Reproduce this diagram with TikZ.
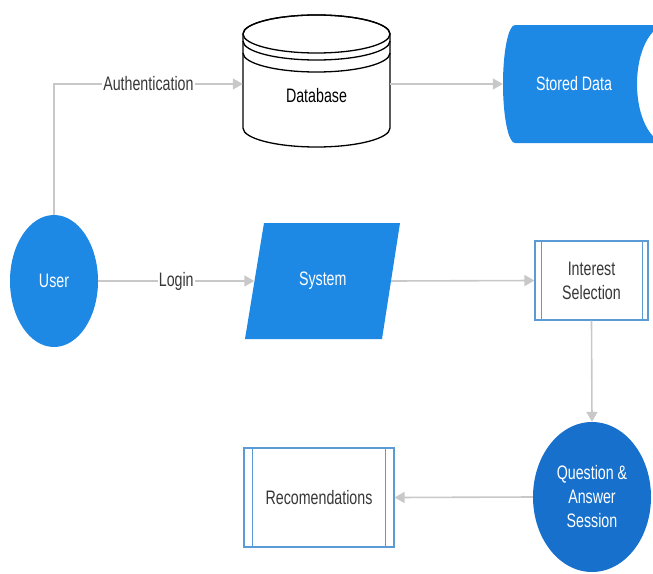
\documentclass[tikz,border=0pt]{standalone}
\usepackage{fontspec}
\setmainfont{Liberation Sans}[FakeStretch=0.73]
\usetikzlibrary{shapes.geometric,arrows.meta}

\definecolor{flowblue}{RGB}{30,136,229}
\definecolor{deepblue}{RGB}{22,112,204}
\definecolor{edgeblue}{RGB}{91,155,213}
\definecolor{linegray}{RGB}{200,200,200}
\definecolor{textgray}{RGB}{55,55,55}
\newcommand{\flowfont}{\fontsize{19.5}{24}\selectfont}

\begin{document}
\begin{tikzpicture}[x=1pt,y=1pt,
% node style
blob/.style={ellipse, fill=flowblue, text=white, font=\flowfont, align=center, inner sep=0pt},
proc/.style={rectangle, draw=edgeblue, line width=1.2pt, fill=white, text=textgray, font=\flowfont, align=center},
hidden/.style={rectangle, inner sep=0pt, font=\flowfont},
dbline/.style={draw=black, line width=1.3pt},
flow/.style={draw=linegray, line width=1.6pt, -{Triangle[width=11pt,length=10pt]}},
tag/.style={fill=white, text=textgray, inner sep=1pt, font=\flowfont}
]
\useasboundingbox (0,0) rectangle (653,-573);
\clip (0,0) rectangle (653,-573);

% shapes drawn directly
\fill[flowblue] (515,-25) -- (667,-25)
  arc[start angle=90, end angle=270, x radius=30pt, y radius=59pt]
  -- (515,-143)
  arc[start angle=270, end angle=90, x radius=12pt, y radius=59pt] -- cycle;
\fill[flowblue] (245,-339) -- (264,-223) -- (400,-223) -- (382,-339) -- cycle;
\draw[dbline, fill=white] (243,-34) -- (243,-128)
  arc[start angle=180, end angle=360, x radius=73.5pt, y radius=19pt]
  -- (390,-34)
  arc[start angle=0, end angle=180, x radius=73.5pt, y radius=19pt] -- cycle;
\draw[dbline] (316.5,-34) ellipse [x radius=73.5pt, y radius=19pt];
\draw[dbline] (243,-41) arc[start angle=180, end angle=360, x radius=73.5pt, y radius=19pt];
\draw[dbline] (243,-53) arc[start angle=180, end angle=360, x radius=73.5pt, y radius=19pt];

% nodes
\node[blob, minimum width=88, minimum height=132] (user) at (54,-281) {User};
\node[hidden, minimum width=147, minimum height=126] (db) at (316.5,-84) {\smash{\raisebox{-18pt}{Database}}};
\node[hidden, text=white, minimum width=142, minimum height=118] (stored) at (574,-84) {Stored Data};
\node[hidden, text=white, minimum width=136.5, minimum height=116] (system) at (322.75,-281) {System};
\node[proc, minimum width=113, minimum height=79] (interest) at (591.5,-280.5) {Interest\\Selection};
\node[blob, fill=deepblue, minimum width=118, minimum height=150] (qa) at (592,-497) {Question \&\\Answer\\Session};
\node[proc, minimum width=150, minimum height=99] (recs) at (319,-497.5) {Recomendations};

% inner lines of the process boxes
\draw[edgeblue, line width=1.2pt] ([xshift=7pt]interest.north west) -- ([xshift=7pt]interest.south west);
\draw[edgeblue, line width=1.2pt] ([xshift=-6pt]interest.north east) -- ([xshift=-6pt]interest.south east);
\draw[edgeblue, line width=1.2pt] ([xshift=9pt]recs.north west) -- ([xshift=9pt]recs.south west);
\draw[edgeblue, line width=1.2pt] ([xshift=-9pt]recs.north east) -- ([xshift=-9pt]recs.south east);

% draw lines between nodes
\draw[flow] (user.north) |- (db.west) node[tag, pos=0.75] {Authentication};
\draw[flow] (db.east) -- (stored.west);
\draw[flow] (user.east) -- (system.west) node[tag, midway] {Login};
\draw[flow] (system.east) -- (interest.west);
\draw[flow] (interest.south) -- (qa.north);
\draw[flow] (qa.west) -- (recs.east);

\end{tikzpicture}
\end{document}
